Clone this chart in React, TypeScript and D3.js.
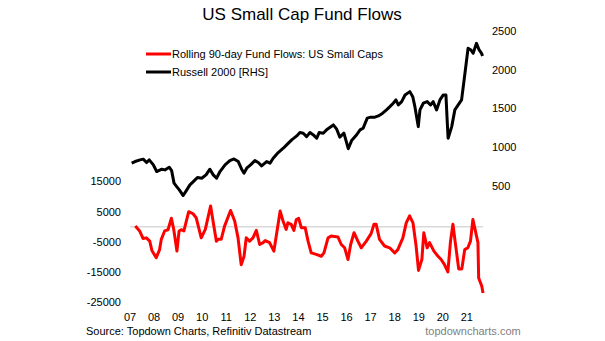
import React from "react";
import * as d3 from "d3";

const flowDates = [
  2007.22, 2007.4, 2007.54, 2007.68, 2007.82, 2007.91, 2008.09, 2008.23, 2008.3, 2008.44,
  2008.58, 2008.72, 2008.82, 2008.95, 2009.04, 2009.13, 2009.24, 2009.44, 2009.62, 2009.75,
  2009.96, 2010.13, 2010.24, 2010.35, 2010.45, 2010.59, 2010.66, 2010.79, 2010.93, 2011.18,
  2011.35, 2011.49, 2011.62, 2011.74, 2011.83, 2011.97, 2012.11, 2012.25, 2012.39, 2012.53,
  2012.62, 2012.8, 2012.98, 2013.12, 2013.24, 2013.36, 2013.49, 2013.56, 2013.7, 2013.81,
  2013.91, 2014.01, 2014.12, 2014.28, 2014.4, 2014.53, 2014.74, 2014.95, 2015.06, 2015.23,
  2015.36, 2015.64, 2015.78, 2015.92, 2016.06, 2016.17, 2016.31, 2016.47, 2016.61, 2016.82,
  2017.02, 2017.14, 2017.23, 2017.37, 2017.58, 2017.79, 2018.0, 2018.13, 2018.34, 2018.48,
  2018.62, 2018.76, 2018.89, 2018.99, 2019.13, 2019.21, 2019.35, 2019.45, 2019.63, 2019.8,
  2019.93, 2020.07, 2020.21, 2020.32, 2020.42, 2020.51, 2020.66, 2020.79, 2020.91, 2021.04,
  2021.15, 2021.25, 2021.34, 2021.46, 2021.49, 2021.62, 2021.67,
];
const flowValues = [
  200, -1400, -3900, -3700, -4800, -7900, -10300, -7600, -4200, -1400,
  -1000, 2800, -1000, -8100, -1400, -1000, -1400, 5000, 4300, 3000,
  -3700, -900, 3000, 6900, 1900, -4800, -4200, -4200, 200, 5400,
  1900, -3700, -12600, -9800, -3700, -4800, -3700, -1200, -5900, -5300,
  -4600, -5300, -8100, -900, 5200, 1900, -900, 1300, 800, -1200,
  2400, 2800, -300, -300, -4800, -8700, -9200, -9800, -8700, -3700,
  -3100, -3400, -5900, -7000, -10900, -5900, -2000, -4800, -7000, -4800,
  -2300, 800, 800, -4200, -6400, -7000, -8700, -7600, -3700, 1300,
  3600, 1300, -6400, -14500, -10900, -2000, -7000, -5300, -8100, -9800,
  -10900, -12600, -15000, -4800, 800, -4800, -14000, -14000, -7600, -7000,
  -4800, 2400, -900, -5300, -17000, -19800, -22000,
];

const russellDates = [
  2007.07, 2007.21, 2007.42, 2007.55, 2007.69, 2007.8, 2007.97, 2008.11, 2008.32, 2008.45,
  2008.63, 2008.73, 2008.83, 2008.94, 2009.05, 2009.21, 2009.36, 2009.49, 2009.63, 2009.8,
  2009.98, 2010.16, 2010.32, 2010.46, 2010.6, 2010.74, 2010.95, 2011.15, 2011.32, 2011.5,
  2011.64, 2011.74, 2011.85, 2012.01, 2012.19, 2012.33, 2012.47, 2012.68, 2012.82, 2012.95,
  2013.16, 2013.37, 2013.51, 2013.72, 2013.93, 2014.06, 2014.2, 2014.34, 2014.48, 2014.62,
  2014.76, 2014.86, 2015.03, 2015.2, 2015.45, 2015.59, 2015.72, 2015.89, 2016.07, 2016.21,
  2016.42, 2016.56, 2016.69, 2016.86, 2017.0, 2017.18, 2017.32, 2017.5, 2017.66, 2017.8,
  2017.94, 2018.05, 2018.15, 2018.29, 2018.43, 2018.63, 2018.75, 2018.84, 2018.98, 2019.05,
  2019.19, 2019.35, 2019.49, 2019.6, 2019.74, 2019.88, 2020.02, 2020.13, 2020.18, 2020.22,
  2020.37, 2020.5, 2020.64, 2020.78, 2020.92, 2021.05, 2021.17, 2021.26, 2021.4, 2021.51,
  2021.61, 2021.65,
];
const russellValues = [
  793, 814, 835, 845, 801, 835, 771, 685, 715, 706,
  741, 697, 535, 491, 448, 375, 448, 513, 555, 607,
  599, 642, 715, 642, 599, 685, 771, 826, 848, 814,
  715, 664, 728, 771, 826, 801, 758, 814, 793, 857,
  930, 986, 1029, 1094, 1145, 1188, 1180, 1136, 1188, 1158,
  1115, 1188, 1180, 1232, 1287, 1232, 1130, 1180, 980, 1085,
  1160, 1223, 1245, 1374, 1387, 1387, 1403, 1438, 1481, 1523,
  1567, 1610, 1545, 1588, 1674, 1717, 1652, 1523, 1265, 1481,
  1567, 1588, 1545, 1588, 1481, 1610, 1674, 1674, 1352, 1115,
  1265, 1481, 1545, 1610, 1954, 2277, 2255, 2212, 2341, 2255,
  2212, 2177,
];

const yearTicks = [2007, 2008, 2009, 2010, 2011, 2012, 2013, 2014, 2015, 2016, 2017, 2018, 2019, 2020, 2021];
const leftTicks = [15000, 5000, -5000, -15000, -25000];
const rightTicks = [500, 1000, 1500, 2000, 2500];

const title = "US Small Cap Fund Flows";
const flowLabel = "Rolling 90-day Fund Flows: US Small Caps";
const russellLabel = "Russell 2000 [RHS]";
const sourceText = "Source: Topdown Charts, Refinitiv Datastream";
const siteText = "topdowncharts.com";

const W = 605;
const H = 341;
const FONT = "'Liberation Sans', Arial, Helvetica, sans-serif";

export default function App() {
  const x = d3.scaleLinear().domain([2007, 2021.67]).range([130, 483]);
  const yL = d3.scaleLinear().domain([-25000, 65000]).range([302, 31]);
  const yR = d3.scaleLinear().domain([-1000, 2500]).range([302, 31]);

  const flowLine = d3
    .line<number>()
    .x((_, i) => x(flowDates[i]))
    .y((d) => yL(d))
    .curve(d3.curveLinear);
  const russellLine = d3
    .line<number>()
    .x((_, i) => x(russellDates[i]))
    .y((d) => yR(d))
    .curve(d3.curveLinear);

  return (
    <svg
      width={W}
      height={H}
      viewBox={`0 0 ${W} ${H}`}
      style={{ position: "absolute", left: 0, top: 0, background: "#fff" }}
      fontFamily={FONT}
    >
      <rect x={0} y={0} width={W} height={H} fill="#fff" />
      <text x={302} y={20} textAnchor="middle" fontSize={17} fill="#000">
        {title}
      </text>

      {/* zero line */}
      <line x1={x(2007)} x2={x(2021.67)} y1={yL(0)} y2={yL(0)} stroke="#d9d9d9" strokeWidth={1.5} />

      {/* series */}
      <path d={russellLine(russellValues) || ""} fill="none" stroke="#000" strokeWidth={3} strokeLinejoin="round" />
      <path d={flowLine(flowValues) || ""} fill="none" stroke="#ff0000" strokeWidth={3} strokeLinejoin="round" />

      {/* left axis */}
      {leftTicks.map((t) => (
        <text key={t} x={121} y={yL(t)} dy="0.35em" textAnchor="end" fontSize={11} fill="#000">
          {t}
        </text>
      ))}
      {/* right axis */}
      {rightTicks.map((t) => (
        <text key={t} x={492} y={yR(t)} dy="0.35em" textAnchor="start" fontSize={11} fill="#000">
          {t}
        </text>
      ))}
      {/* x axis labels */}
      {yearTicks.map((t) => (
        <text key={t} x={x(t)} y={321} textAnchor="middle" fontSize={11} fill="#000">
          {String(t).slice(2)}
        </text>
      ))}

      {/* legend */}
      <line x1={146} x2={171} y1={54} y2={54} stroke="#ff0000" strokeWidth={3} />
      <text x={172} y={54} dy="0.35em" fontSize={11} fill="#000">
        {flowLabel}
      </text>
      <line x1={146} x2={171} y1={72} y2={72} stroke="#000" strokeWidth={3} />
      <text x={172} y={72} dy="0.35em" fontSize={11} fill="#000">
        {russellLabel}
      </text>

      {/* footer */}
      <text x={86} y={335} fontSize={11} fill="#000">
        {sourceText}
      </text>
      <text x={473} y={335} textAnchor="middle" fontSize={11} fill="#808080">
        {siteText}
      </text>
    </svg>
  );
}
